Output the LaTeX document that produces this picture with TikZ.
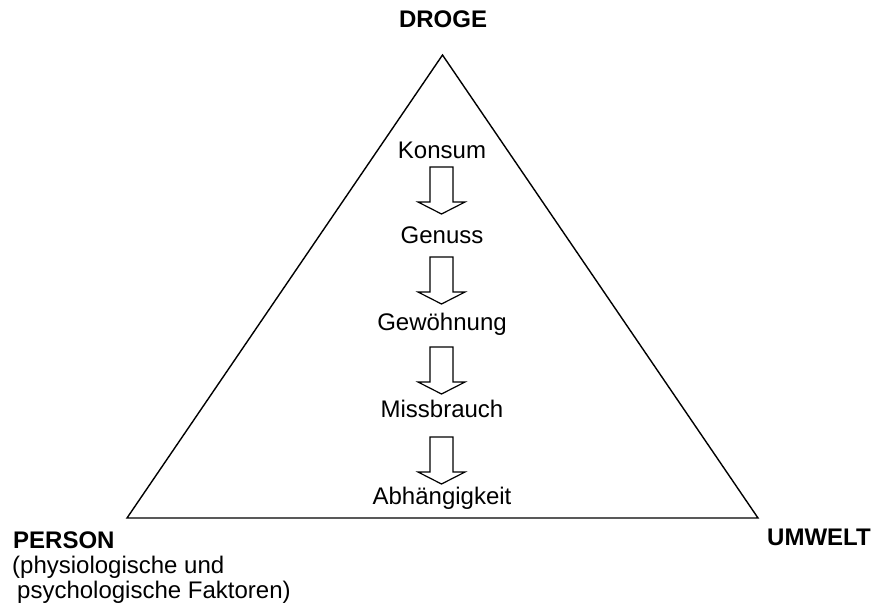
\documentclass[tikz,border=0pt]{standalone}
\usepackage{fontspec}
\setmainfont{Liberation Sans}
\usepackage{tikz}
\usetikzlibrary{shapes,arrows}
\tikzstyle{stage} = [inner sep=0, anchor=base, font=\fontsize{24}{25}\selectfont]
\tikzstyle{corner} = [inner sep=0, font=\fontsize{24}{25}\selectfont\bfseries]
\tikzstyle{hollow} = [draw, line width=1.2pt, line join=miter, fill=white]
\newcommand{\downblock}[1]{\draw[hollow] (#1) ++(-11.5,0) -- ++(0,35) -- ++(-12,0)
  -- ++(23.5,12) -- ++(23.5,-12) -- ++(-12,0) -- ++(0,-35) -- cycle;}

\begin{document}
\begin{tikzpicture}[x=1pt,y=-1pt]
\useasboundingbox (0,0) rectangle (877,611);

\coordinate (top) at (442.5,55);
\coordinate (left) at (127,518);
\coordinate (right) at (758,518);
\draw[line width=1.4pt, line join=miter] (top) -- (right) -- (left) -- cycle;

\node[corner, anchor=base] (droge) at (443,27) {DROGE};
\node[corner, anchor=base west] (person) at (13,548) {PERSON};
% base of a two-line node is the baseline of its last line
\node[inner sep=0, anchor=base west, align=left, font=\fontsize{24}{25}\selectfont]
  (faktoren) at (12,598) {(physiologische und\\\hspace*{5pt}psychologische Faktoren)};
\node[corner, anchor=base west] (umwelt) at (767,545) {UMWELT};

\node[stage] (konsum) at (442,158) {Konsum};
\node[stage] (genuss) at (442,243) {Genuss};
\node[stage] (gewoehnung) at (442,330) {Gewöhnung};
\node[stage] (missbrauch) at (442,417) {Missbrauch};
\node[stage] (abhaengigkeit) at (442,504) {Abhängigkeit};

\coordinate (a1) at (441.5,167);
\coordinate (a2) at (441.5,257);
\coordinate (a3) at (441.5,347);
\coordinate (a4) at (441.5,437);
\foreach \a in {a1,a2,a3,a4}{
  \downblock{\a}
}
\end{tikzpicture}
\end{document}
